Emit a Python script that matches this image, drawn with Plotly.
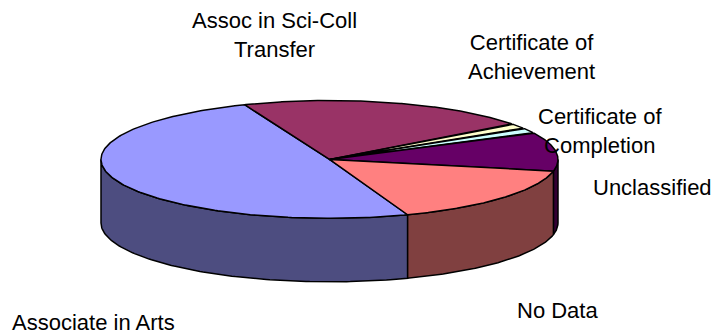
import numpy as np
import plotly.graph_objects as go

categories = ["Associate in Arts", "Assoc in Sci-Coll<br>Transfer", "Certificate of<br>Achievement",
              "Certificate of<br>Completion", "Unclassified", "No Data"]
values = [49.5, 20.75, 1.4, 1.4, 10.7, 16.25]
top_colors = ["#9999FF", "#993366", "#FFFFCC", "#CCFFFF", "#660066", "#FF8080"]
side_colors = ["#4D4D80", "#4D1A33", "#808066", "#668080", "#330033", "#804040"]
label_x = [93, 274, 531, 600, 652, 557]
label_y = [322, 35, 57, 131, 187, 310]

START = 160.0
CX, CY, RX, RY, DEPTH = 329.5, 159.4, 228.5, 58.9, 63.5


def px(t):
    return CX + RX * np.sin(np.radians(t))


def py(t):
    return CY - RY * np.cos(np.radians(t))


fracs = np.array(values) / sum(values) * 360
edges = START + np.concatenate([[0], np.cumsum(fracs)])

fig = go.Figure()
line = dict(color="black", width=1.5)


def add(xs, ys, color):
    fig.add_trace(go.Scatter(x=xs, y=ys, mode="lines", fill="toself", fillcolor=color,
                             line=line, hoverinfo="skip", showlegend=False))


# sides (front half only: angles 90-270, and the wrap 450-630)
for i in range(len(values)):
    for lo, hi in ((90, 270), (450, 630)):
        a, b = max(edges[i], lo), min(edges[i + 1], hi)
        if b > a:
            t = np.linspace(a, b, 120)
            add(np.r_[px(t), px(t[::-1]), px(t[0])],
                np.r_[py(t), py(t[::-1]) + DEPTH, py(t[0])], side_colors[i])

# top faces
for i in range(len(values)):
    t = np.linspace(edges[i], edges[i + 1], 200)
    add(np.r_[CX, px(t), CX], np.r_[CY, py(t), CY], top_colors[i])

for name, x, y in zip(categories, label_x, label_y):
    fig.add_annotation(x=x, y=y, text=name, showarrow=False, xanchor="center", yanchor="middle",
                       font=dict(family="Liberation Sans, Arial", size=22, color="black"), align="center")

fig.update_layout(
    width=721, height=331, margin=dict(l=0, r=0, t=0, b=0),
    paper_bgcolor="white", plot_bgcolor="white", showlegend=False,
    xaxis=dict(range=[0, 721], visible=False, fixedrange=True),
    yaxis=dict(range=[331, 0], visible=False, fixedrange=True),
)
fig.write_html("out.html", config={"displayModeBar": False},
               post_script="document.body.style.margin='0';document.documentElement.style.overflow='hidden';")
